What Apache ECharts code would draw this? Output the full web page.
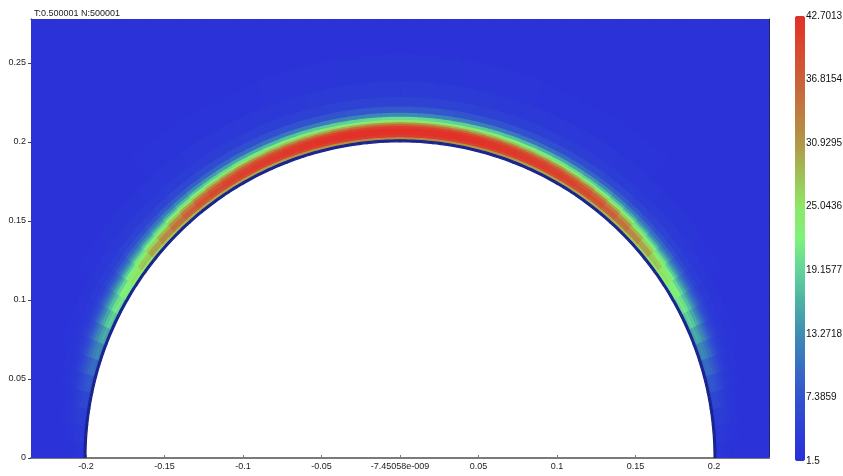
<!DOCTYPE html>
<html>
<head>
<meta charset="utf-8">
<script src="https://cdn.jsdelivr.net/npm/echarts@6/dist/echarts.min.js"></script>
<style>
html,body{margin:0;padding:0;background:#fff;}
#chart{width:843px;height:476px;}
</style>
</head>
<body>
<div id="chart"></div>
<script>
// ---- data ----
const titleText = 'T:0.500001 N:500001';
// Radial cell boundaries (distance from the centre of the half-disc)
const ringEdges = [0.2000, 0.2012, 0.2025, 0.2040, 0.2060, 0.2080, 0.2095, 0.2108, 0.2120,
                   0.2135, 0.2155, 0.2180, 0.2220, 0.2280, 0.2380, 0.2550, 0.3700];
// Angular cell centres, degrees above the horizontal (field is mirror-symmetric about x = 0)
const angleCenters = [1.5, 4.5, 7.5, 10.5, 13.5, 16.5, 19.5, 22.5, 25.5, 28.5,
                      31.5, 34.5, 37.5, 40.5, 43.5, 46.5, 49.5, 52.5, 55.5, 58.5,
                      61.5, 64.5, 67.5, 70.5, 73.5, 76.5, 79.5, 82.5, 85.5, 88.5];
const angleHalfWidth = 1.5;
// Values of each ring cell (inner -> outer) at each angle
const at01_5 = [0.8, 2.5, 2.7, 2.6, 2.5, 2.4, 2.3, 2.2, 2.2, 2.1, 2.1, 2.0, 2.0, 2.0, 2.0, 2.0];
const at04_5 = [0.8, 3.2, 3.5, 3.3, 3.1, 2.9, 2.7, 2.6, 2.5, 2.4, 2.3, 2.2, 2.1, 2.0, 2.0, 2.0];
const at07_5 = [0.8, 4.0, 4.3, 4.1, 3.8, 3.5, 3.2, 3.0, 2.8, 2.6, 2.4, 2.3, 2.1, 2.0, 2.0, 2.0];
const at10_5 = [0.8, 5.4, 5.8, 5.4, 4.8, 4.2, 3.7, 3.3, 3.0, 2.7, 2.5, 2.3, 2.2, 2.1, 2.0, 2.0];
const at13_5 = [0.8, 7.2, 7.8, 7.2, 6.3, 5.4, 4.7, 4.1, 3.6, 3.1, 2.7, 2.4, 2.2, 2.1, 2.0, 2.0];
const at16_5 = [0.8, 9.6, 10.2, 9.5, 8.2, 7.0, 6.0, 5.1, 4.4, 3.6, 3.0, 2.6, 2.3, 2.1, 2.0, 2.0];
const at19_5 = [0.8, 12.3, 13.0, 12.0, 10.5, 8.8, 7.5, 6.3, 5.3, 4.3, 3.4, 2.8, 2.4, 2.2, 2.0, 2.0];
const at22_5 = [0.8, 15.0, 16.0, 14.8, 12.8, 10.8, 9.1, 7.6, 6.4, 5.0, 3.8, 3.0, 2.5, 2.2, 2.0, 2.0];
const at25_5 = [0.8, 17.5, 19.0, 17.7, 15.3, 12.9, 10.9, 9.0, 7.5, 5.8, 4.3, 3.2, 2.6, 2.3, 2.1, 2.0];
const at28_5 = [0.8, 19.7, 21.3, 20.1, 17.3, 14.6, 12.4, 10.3, 8.5, 6.5, 4.8, 3.5, 2.7, 2.3, 2.1, 2.0];
const at31_5 = [0.8, 21.5, 23.3, 22.2, 19.2, 16.2, 13.7, 11.4, 9.4, 7.2, 5.2, 3.8, 2.9, 2.4, 2.1, 2.0];
const at34_5 = [0.8, 23.3, 25.7, 24.7, 21.7, 18.4, 15.6, 13.1, 10.8, 8.3, 5.9, 4.2, 3.1, 2.5, 2.2, 2.0];
const at37_5 = [0.8, 25.0, 28.0, 27.0, 24.0, 20.5, 17.0, 14.5, 12.0, 9.3, 6.6, 4.7, 3.4, 2.7, 2.2, 2.0];
const at40_5 = [0.8, 26.5, 30.5, 30.0, 26.5, 22.5, 18.8, 16.0, 13.0, 10.0, 7.0, 4.9, 3.5, 2.7, 2.3, 2.0];
const at43_5 = [0.8, 27.5, 32.5, 32.5, 29.0, 24.5, 20.5, 17.5, 14.2, 10.8, 7.5, 5.1, 3.5, 2.8, 2.3, 2.0];
const at46_5 = [0.8, 28.2, 34.5, 35.0, 31.5, 27.0, 22.5, 19.0, 15.5, 11.7, 8.0, 5.3, 3.7, 2.9, 2.3, 2.0];
const at49_5 = [0.8, 28.8, 36.2, 37.2, 34.0, 29.3, 24.5, 20.5, 16.7, 12.6, 8.4, 5.6, 3.8, 2.9, 2.4, 2.0];
const at52_5 = [0.8, 29.2, 37.5, 38.8, 36.3, 31.5, 26.3, 22.0, 17.8, 13.5, 8.8, 5.8, 3.9, 3.0, 2.4, 2.0];
const at55_5 = [0.8, 29.6, 38.4, 39.9, 38.0, 33.4, 28.0, 23.2, 18.9, 14.3, 9.3, 6.0, 4.0, 3.1, 2.4, 2.0];
const at58_5 = [0.8, 29.9, 39.0, 40.6, 39.3, 35.0, 29.4, 24.3, 19.9, 15.1, 9.7, 6.3, 4.1, 3.1, 2.4, 2.0];
const at61_5 = [0.8, 30.0, 39.3, 41.0, 40.1, 36.4, 30.6, 25.3, 20.8, 15.8, 10.1, 6.4, 4.2, 3.2, 2.5, 2.0];
const at64_5 = [0.8, 30.0, 39.4, 41.3, 40.6, 37.3, 31.3, 26.2, 21.4, 16.4, 10.5, 6.7, 4.4, 3.2, 2.5, 2.0];
const at67_5 = [0.8, 30.0, 39.5, 41.5, 41.0, 38.0, 32.0, 27.0, 22.0, 17.0, 11.0, 7.0, 4.5, 3.3, 2.5, 2.0];
const at70_5 = [0.8, 30.6, 39.8, 41.8, 41.6, 39.0, 33.2, 27.6, 22.6, 17.6, 11.3, 7.1, 4.6, 3.4, 2.6, 2.0];
const at73_5 = [0.8, 31.0, 40.1, 42.1, 42.1, 39.7, 34.2, 28.2, 23.1, 18.1, 11.6, 7.3, 4.7, 3.4, 2.6, 2.0];
const at76_5 = [0.8, 31.0, 40.4, 42.3, 42.3, 40.3, 34.8, 28.8, 23.4, 18.4, 11.9, 7.4, 4.8, 3.5, 2.6, 2.0];
const at79_5 = [0.8, 31.4, 40.7, 42.4, 42.5, 40.7, 35.4, 29.4, 23.7, 18.7, 12.2, 7.6, 4.9, 3.5, 2.6, 2.0];
const at82_5 = [0.8, 32.0, 41.0, 42.5, 42.6, 41.0, 36.0, 30.0, 24.0, 19.0, 12.5, 7.8, 5.0, 3.6, 2.7, 2.0];
const at85_5 = [0.8, 32.0, 41.0, 42.5, 42.7, 41.3, 36.6, 30.6, 24.6, 19.6, 12.8, 7.9, 5.0, 3.6, 2.7, 2.0];
const at88_5 = [0.8, 32.0, 41.0, 42.5, 42.7, 41.5, 37.0, 31.0, 25.0, 20.0, 13.0, 8.0, 5.0, 3.6, 2.7, 2.0];
const rowsByAngle = [at01_5, at04_5, at07_5, at10_5, at13_5, at16_5, at19_5, at22_5, at25_5, at28_5,
                     at31_5, at34_5, at37_5, at40_5, at43_5, at46_5, at49_5, at52_5, at55_5, at58_5,
                     at61_5, at64_5, at67_5, at70_5, at73_5, at76_5, at79_5, at82_5, at85_5, at88_5];

// Axis ticks
const xTickValues = [-0.2, -0.15, -0.1, -0.05, 0, 0.05, 0.1, 0.15, 0.2];
const xTickLabels = ['-0.2', '-0.15', '-0.1', '-0.05', '-7.45058e-009', '0.05', '0.1', '0.15', '0.2'];
const yTickValues = [0, 0.05, 0.1, 0.15, 0.2, 0.25];
const yTickLabels = ['0', '0.05', '0.1', '0.15', '0.2', '0.25'];
const colorMin = 1.5, colorMax = 42.7013, colorStep = 5.8859;
const colorbarLabels = ['1.5', '7.3859', '13.2718', '19.1577', '25.0436', '30.9295', '36.8154', '42.7013'];
const colorStops = ['#2a2fd9', '#2d3fd5', '#3253cf', '#376fc2', '#3e8db3', '#4cb0a6', '#62d498', '#7ef27c',
                    '#8ee866', '#a0c054', '#b09848', '#c07a40', '#cc6038', '#d84830', '#e23028'];

// ---- build cells (outer rings first so the thin inner rings are painted last) ----
const cells = [];
angleCenters.forEach((a, i) => {
  const row = rowsByAngle[i];
  for (let k = row.length - 1; k >= 0; k--) {
    cells.push([a - angleHalfWidth, a + angleHalfWidth, ringEdges[k], ringEdges[k + 1], row[k]]);
    cells.push([180 - a - angleHalfWidth, 180 - a + angleHalfWidth, ringEdges[k], ringEdges[k + 1], row[k]]);
  }
});

function renderCell(params, api) {
  const t0 = api.value(0) * Math.PI / 180, t1 = api.value(1) * Math.PI / 180;
  const r0 = api.value(2), r1 = api.value(3);
  const n = 4, pts = [];
  for (let i = 0; i <= n; i++) {
    const t = t0 + (t1 - t0) * i / n;
    pts.push(api.coord([r1 * Math.cos(t), r1 * Math.sin(t)]));
  }
  for (let i = n; i >= 0; i--) {
    const t = t0 + (t1 - t0) * i / n;
    pts.push(api.coord([r0 * Math.cos(t), r0 * Math.sin(t)]));
  }
  const c = api.visual('color');
  return { type: 'polygon', shape: { points: pts }, style: { fill: c, stroke: c, lineWidth: 1.2, lineJoin: 'round' } };
}

function nearestLabel(values, labels, v) {
  let best = 0;
  values.forEach((t, i) => { if (Math.abs(t - v) < Math.abs(values[best] - v)) best = i; });
  return Math.abs(values[best] - v) < 1e-6 ? labels[best] : '';
}

const chart = echarts.init(document.getElementById('chart'), null, { renderer: 'canvas' });
const fontFam = 'Liberation Sans, Arial, sans-serif';
const axisFont = { fontFamily: fontFam, fontSize: 9, color: '#222' };

chart.setOption({
  animation: false,
  backgroundColor: '#ffffff',
  title: {
    text: titleText, left: 29, top: 4,
    textStyle: { fontFamily: fontFam, fontSize: 9, fontWeight: 'normal', color: '#222' }
  },
  grid: [
    { left: 31, right: 74, top: 19, bottom: 18, show: false, containLabel: false, outerBoundsMode: 'none' },
    { left: 795, top: 16, width: 10, height: 445, show: false, containLabel: false, outerBoundsMode: 'none' }
  ],
  xAxis: [
    {
      type: 'value', gridIndex: 0, min: -0.235, max: 0.235, splitNumber: 9,
      axisLine: { show: true, onZero: false, lineStyle: { color: '#7a7a7a', width: 2 } },
      axisTick: { show: true, inside: true, length: 3, lineStyle: { color: '#7a7a7a' } },
      axisLabel: {
        ...axisFont, margin: 4, showMinLabel: false, showMaxLabel: false,
        formatter: v => nearestLabel(xTickValues, xTickLabels, v)
      },
      splitLine: { show: false }
    },
    { type: 'value', gridIndex: 0, position: 'top', min: -0.235, max: 0.235,
      axisLine: { show: true, onZero: false, lineStyle: { color: '#1d2366', width: 1 } },
      axisTick: { show: false }, axisLabel: { show: false }, splitLine: { show: false } },
    { type: 'value', gridIndex: 1, show: false, min: 0, max: 1 }
  ],
  yAxis: [
    {
      type: 'value', gridIndex: 0, min: 0, max: 0.2777, interval: 0.05,
      axisLine: { show: true, onZero: false, lineStyle: { color: '#222', width: 1 } },
      axisTick: { show: true, length: 3, lineStyle: { color: '#444' } },
      axisLabel: {
        ...axisFont, margin: 5, verticalAlign: 'middle', padding: [0, 0, 6, 0], showMaxLabel: false,
        formatter: v => nearestLabel(yTickValues, yTickLabels, v)
      },
      splitLine: { show: false }
    },
    { type: 'value', gridIndex: 0, position: 'right', min: 0, max: 0.2777,
      axisLine: { show: true, onZero: false, lineStyle: { color: '#1d2366', width: 1 } },
      axisTick: { show: false }, axisLabel: { show: false }, splitLine: { show: false } },
    {
      type: 'value', gridIndex: 1, position: 'right', min: 0, max: colorMax - colorMin, interval: colorStep,
      axisLine: { show: false }, axisTick: { show: false }, splitLine: { show: false },
      axisLabel: {
        fontFamily: fontFam, fontSize: 10, color: '#111', margin: 1,
        showMaxLabel: true, showMinLabel: true,
        formatter: v => colorbarLabels[Math.round(v / colorStep)] || ''
      }
    }
  ],
  visualMap: {
    type: 'continuous', min: colorMin, max: colorMax, range: [colorMin + 0.001, colorMax],
    dimension: 4, seriesIndex: 0,
    calculable: false, show: true, orient: 'vertical',
    left: 795, top: 16, itemWidth: 10, itemHeight: 445, padding: 0, text: null,
    inRange: { color: colorStops },
    outOfRange: { color: '#1a248e' }
  },
  series: [{
    type: 'custom', coordinateSystem: 'cartesian2d', xAxisIndex: 0, yAxisIndex: 0,
    clip: true, renderItem: renderCell, data: cells,
    encode: { x: 0, y: 2 }, silent: true
  }]
});
</script>
</body>
</html>
